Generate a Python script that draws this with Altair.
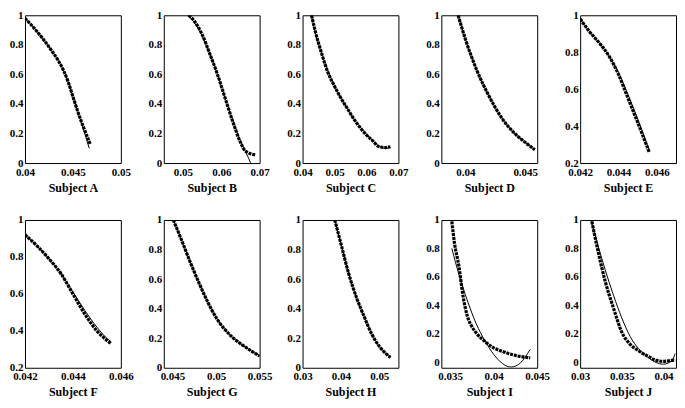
import altair as alt
import pandas as pd

# ---- Subject A ----
A_dx = [0.040, 0.041, 0.042, 0.043, 0.0435, 0.044, 0.0445, 0.045, 0.0455, 0.046, 0.0468]
A_dy = [0.98, 0.91, 0.83, 0.74, 0.69, 0.63, 0.55, 0.45, 0.35, 0.26, 0.13]
A_fx = [0.040, 0.041, 0.042, 0.043, 0.0435, 0.044, 0.0445, 0.045, 0.0455, 0.046, 0.0467]
A_fy = [0.98, 0.91, 0.83, 0.74, 0.69, 0.63, 0.55, 0.45, 0.35, 0.25, 0.10]
A_xdom = [0.04, 0.05]
A_xticks = [0.04, 0.045, 0.05]

# ---- Subject B ----
B_dx = [0.0515, 0.053, 0.055, 0.057, 0.059, 0.061, 0.063, 0.065, 0.066, 0.067, 0.068, 0.069]
B_dy = [1.0, 0.96, 0.87, 0.74, 0.60, 0.44, 0.28, 0.14, 0.09, 0.07, 0.06, 0.055]
B_fx = [0.0512, 0.053, 0.055, 0.057, 0.059, 0.061, 0.063, 0.065, 0.067, 0.068]
B_fy = [1.0, 0.95, 0.86, 0.74, 0.60, 0.44, 0.29, 0.15, 0.04, -0.02]
B_xdom = [0.045, 0.07]
B_xticks = [0.05, 0.06, 0.07]

# ---- Subject C ----
C_dx = [0.0428, 0.044, 0.046, 0.048, 0.050, 0.052, 0.054, 0.056, 0.058, 0.060, 0.062, 0.064, 0.066, 0.0675]
C_dy = [1.0, 0.89, 0.74, 0.61, 0.52, 0.44, 0.37, 0.30, 0.24, 0.19, 0.15, 0.11, 0.105, 0.11]
C_fx = [0.0428, 0.044, 0.046, 0.048, 0.050, 0.052, 0.054, 0.056, 0.058, 0.060, 0.062, 0.064, 0.066, 0.0675]
C_fy = [1.0, 0.88, 0.74, 0.62, 0.52, 0.44, 0.37, 0.30, 0.245, 0.195, 0.15, 0.115, 0.10, 0.105]
C_xdom = [0.04, 0.07]
C_xticks = [0.04, 0.05, 0.06, 0.07]

# ---- Subject D ----
D_dx = [0.0394, 0.040, 0.041, 0.042, 0.043, 0.044, 0.045, 0.0458]
D_dy = [1.0, 0.84, 0.62, 0.45, 0.31, 0.21, 0.14, 0.09]
D_fx = [0.0394, 0.040, 0.041, 0.042, 0.043, 0.044, 0.045, 0.0458]
D_fy = [1.0, 0.84, 0.62, 0.45, 0.31, 0.21, 0.14, 0.09]
D_xdom = [0.038, 0.046]
D_xticks = [0.04, 0.045]

# ---- Subject E ----
E_dx = [0.042, 0.0425, 0.043, 0.0435, 0.044, 0.0445, 0.045, 0.0456]
E_dy = [0.98, 0.91, 0.85, 0.78, 0.68, 0.55, 0.42, 0.26]
E_fx = [0.042, 0.0425, 0.043, 0.0435, 0.044, 0.0445, 0.045, 0.0456]
E_fy = [0.98, 0.91, 0.85, 0.78, 0.69, 0.57, 0.44, 0.27]
E_xdom = [0.042, 0.047]
E_xticks = [0.042, 0.044, 0.046]

# ---- Subject F ----
F_dx = [0.042, 0.0425, 0.043, 0.0435, 0.044, 0.0445, 0.045, 0.0455, 0.0456]
F_dy = [0.92, 0.86, 0.79, 0.71, 0.60, 0.49, 0.40, 0.34, 0.33]
F_fx = [0.042, 0.0425, 0.043, 0.0435, 0.044, 0.0445, 0.045, 0.0455, 0.0456]
F_fy = [0.92, 0.86, 0.79, 0.71, 0.61, 0.51, 0.42, 0.35, 0.34]
F_xdom = [0.042, 0.046]
F_xticks = [0.042, 0.044, 0.046]

# ---- Subject G ----
G_dx = [0.0451, 0.046, 0.047, 0.048, 0.049, 0.050, 0.051, 0.052, 0.053, 0.054, 0.055]
G_dy = [1.0, 0.87, 0.72, 0.58, 0.45, 0.34, 0.26, 0.20, 0.155, 0.115, 0.08]
G_fx = [0.0451, 0.046, 0.047, 0.048, 0.049, 0.050, 0.051, 0.052, 0.053, 0.054, 0.055]
G_fy = [1.0, 0.87, 0.72, 0.58, 0.45, 0.34, 0.26, 0.20, 0.155, 0.115, 0.08]
G_xdom = [0.044, 0.055]
G_xticks = [0.045, 0.05, 0.055]

# ---- Subject H ----
H_dx = [0.0384, 0.040, 0.042, 0.044, 0.046, 0.048, 0.050, 0.052, 0.0529]
H_dy = [1.0, 0.84, 0.64, 0.48, 0.35, 0.23, 0.145, 0.09, 0.07]
H_fx = [0.0384, 0.040, 0.042, 0.044, 0.046, 0.048, 0.050, 0.052, 0.0529]
H_fy = [1.0, 0.84, 0.64, 0.48, 0.35, 0.23, 0.145, 0.09, 0.07]
H_xdom = [0.03, 0.055]
H_xticks = [0.03, 0.04, 0.05]

# ---- Subject I ----
I_dx = [0.0352, 0.0355, 0.036, 0.0365, 0.037, 0.0375, 0.038, 0.039, 0.040, 0.041, 0.042, 0.043, 0.0442]
I_dy = [0.99, 0.84, 0.68, 0.46, 0.32, 0.25, 0.205, 0.145, 0.10, 0.075, 0.055, 0.04, 0.03]
I_fx = [0.0352, 0.036, 0.037, 0.038, 0.039, 0.040, 0.041, 0.042, 0.043, 0.0442]
I_fy = [0.80, 0.62, 0.43, 0.27, 0.15, 0.055, -0.01, -0.035, -0.01, 0.09]
I_xdom = [0.034, 0.045]
I_xticks = [0.035, 0.04, 0.045]

# ---- Subject J ----
J_dx = [0.0314, 0.032, 0.033, 0.034, 0.035, 0.036, 0.037, 0.038, 0.039, 0.040, 0.041, 0.0414]
J_dy = [0.99, 0.82, 0.57, 0.38, 0.21, 0.125, 0.08, 0.045, 0.015, 0.005, 0.012, 0.014]
J_fx = [0.0313, 0.032, 0.033, 0.034, 0.035, 0.036, 0.037, 0.038, 0.039, 0.040, 0.041, 0.0414]
J_fy = [1.0, 0.85, 0.65, 0.47, 0.31, 0.18, 0.095, 0.04, 0.0, -0.015, 0.01, 0.06]
J_xdom = [0.03, 0.0415]
J_xticks = [0.03, 0.035, 0.04]

# y axes
Y01_dom = [0, 1]
Y01_ticks = [0, 0.2, 0.4, 0.6, 0.8, 1]
Y21_dom = [0.2, 1]
Y21_ticks = [0.2, 0.4, 0.6, 0.8, 1]
YN_dom = [-0.04, 1]
YN_ticks = [0, 0.2, 0.4, 0.6, 0.8, 1]

FONT = "Times New Roman, Liberation Serif, serif"
W, H = 96, 148


def panel(name, dx, dy, fx, fy, xdom, xticks, ydom, yticks):
    df_d = pd.DataFrame({"x": dx, "y": dy})
    df_f = pd.DataFrame({"x": fx, "y": fy})
    xs = alt.Scale(domain=xdom, nice=False, zero=False)
    ys = alt.Scale(domain=ydom, nice=False, zero=False)
    xax = alt.Axis(values=xticks, format="~g", title="Subject " + name,
                   labelFlush=False, labelOverlap=False, labelPadding=3)
    yax = alt.Axis(values=yticks, format="~g", title=None,
                   labelFlush=False, labelOverlap=False)
    d = alt.Chart(df_d).mark_line(
        color="black", strokeWidth=3.2, strokeDash=[3, 0.9],
        interpolate="monotone", clip=True
    ).encode(x=alt.X("x:Q", scale=xs, axis=xax), y=alt.Y("y:Q", scale=ys, axis=yax))
    f = alt.Chart(df_f).mark_line(
        color="black", strokeWidth=1, interpolate="monotone", clip=True
    ).encode(x=alt.X("x:Q", scale=xs, axis=xax), y=alt.Y("y:Q", scale=ys, axis=yax))
    return alt.layer(d, f).properties(width=W, height=H)


panels = [
    panel("A", A_dx, A_dy, A_fx, A_fy, A_xdom, A_xticks, Y01_dom, Y01_ticks),
    panel("B", B_dx, B_dy, B_fx, B_fy, B_xdom, B_xticks, Y01_dom, Y01_ticks),
    panel("C", C_dx, C_dy, C_fx, C_fy, C_xdom, C_xticks, Y01_dom, Y01_ticks),
    panel("D", D_dx, D_dy, D_fx, D_fy, D_xdom, D_xticks, Y01_dom, Y01_ticks),
    panel("E", E_dx, E_dy, E_fx, E_fy, E_xdom, E_xticks, Y21_dom, Y21_ticks),
    panel("F", F_dx, F_dy, F_fx, F_fy, F_xdom, F_xticks, Y21_dom, Y21_ticks),
    panel("G", G_dx, G_dy, G_fx, G_fy, G_xdom, G_xticks, Y01_dom, Y01_ticks),
    panel("H", H_dx, H_dy, H_fx, H_fy, H_xdom, H_xticks, Y01_dom, Y01_ticks),
    panel("I", I_dx, I_dy, I_fx, I_fy, I_xdom, I_xticks, YN_dom, YN_ticks),
    panel("J", J_dx, J_dy, J_fx, J_fy, J_xdom, J_xticks, YN_dom, YN_ticks),
]

chart = alt.concat(
    *panels, columns=5, spacing={"row": 57, "column": 43}, bounds="flush"
).properties(
    padding=0, background="white"
).configure_view(
    stroke="black", strokeWidth=1
).configure_axis(
    grid=False, domain=False, ticks=False,
    labelFont=FONT, labelFontWeight="bold", labelFontSize=11, labelColor="black",
    labelPadding=2,
    titleFont=FONT, titleFontWeight="bold", titleFontSize=12, titleColor="black",
    titlePadding=5,
)

chart.save("out.html", embed_options={"renderer": "svg", "actions": False})
